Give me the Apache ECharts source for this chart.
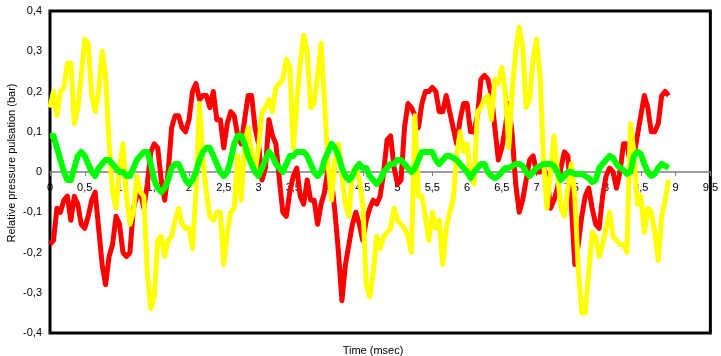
<!DOCTYPE html>
<html>
<head>
<meta charset="utf-8">
<script src="https://cdn.jsdelivr.net/npm/echarts@6/dist/echarts.min.js"></script>
<style>html,body{margin:0;padding:0;background:#fff}#c{width:721px;height:356px}</style>
</head>
<body>
<div id="c"></div>
<script>
// sampling step of the time axis (msec)
const timeStep = 0.05;
const xTicks = [0,0.5,1,1.5,2,2.5,3,3.5,4,4.5,5,5.5,6,6.5,7,7.5,8,8.5,9,9.5];
const yTicks = [-0.4,-0.3,-0.2,-0.1,0,0.1,0.2,0.3,0.4];

const redValues = [
  -0.18,-0.17,-0.09,-0.10,-0.07,-0.06,-0.12,-0.06,-0.08,-0.13,
  -0.14,-0.11,-0.07,-0.05,-0.14,-0.23,-0.28,-0.21,-0.18,-0.11,
  -0.13,-0.20,-0.21,-0.20,-0.09,-0.06,-0.05,-0.09,-0.03,0.05,
  0.07,0.06,-0.02,-0.07,0.00,0.11,0.14,0.14,0.11,0.10,
  0.13,0.20,0.22,0.18,0.19,0.19,0.16,0.20,0.13,0.13,
  0.06,0.12,0.15,0.14,0.09,0.07,0.13,0.19,0.19,0.11,
  0.07,-0.02,0.01,0.13,0.09,0.07,-0.02,-0.10,-0.11,-0.05,
  -0.01,0.01,-0.06,-0.08,-0.02,-0.07,-0.07,-0.13,-0.08,-0.05,
  0.01,-0.02,-0.10,-0.20,-0.32,-0.23,-0.18,-0.13,-0.10,-0.13,
  -0.17,-0.12,-0.09,-0.07,-0.08,-0.06,0.00,0.08,0.09,0.01,
  -0.03,-0.02,0.11,0.17,0.16,0.14,0.11,0.17,0.20,0.20,
  0.21,0.20,0.15,0.15,0.19,0.15,0.11,0.07,0.13,0.17,
  0.17,0.10,0.10,0.14,0.23,0.24,0.23,0.19,0.11,0.03,
  0.06,0.11,0.17,0.09,-0.03,-0.10,-0.07,-0.02,0.03,0.04,
  0.00,0.00,0.01,-0.01,-0.09,-0.07,-0.04,0.01,0.05,0.04,
  -0.08,-0.23,-0.18,-0.11,-0.06,-0.04,-0.09,-0.13,-0.14,-0.06,
  -0.01,0.01,0.00,-0.04,0.00,0.07,0.07,0.02,0.04,0.09,
  0.14,0.19,0.16,0.10,0.10,0.12,0.19,0.20,0.19
];

const yellowValues = [
  0.16,0.20,0.14,0.20,0.21,0.27,0.27,0.12,0.16,0.24,
  0.33,0.32,0.19,0.15,0.20,0.30,0.24,0.07,-0.05,-0.09,
  0.01,0.07,-0.06,-0.13,-0.10,-0.01,-0.05,-0.06,-0.25,-0.34,
  -0.31,-0.17,-0.16,-0.21,-0.17,-0.16,-0.12,-0.09,-0.13,-0.14,
  -0.14,-0.19,-0.05,0.17,0.03,-0.05,-0.11,-0.12,-0.10,-0.10,
  -0.23,-0.15,-0.10,-0.09,0.04,-0.07,0.07,0.11,0.05,0.00,
  0.06,0.15,0.16,0.18,0.15,0.21,0.22,0.23,0.28,0.26,
  0.06,0.17,0.27,0.34,0.30,0.16,0.17,0.24,0.32,0.17,
  0.02,-0.07,0.03,0.07,-0.01,-0.08,-0.11,0.00,0.01,-0.02,
  -0.08,-0.28,-0.31,-0.25,-0.16,-0.19,-0.16,-0.15,-0.14,-0.09,
  -0.12,-0.13,-0.14,-0.16,-0.20,0.14,-0.06,-0.06,-0.11,-0.17,
  -0.10,-0.14,-0.12,-0.23,-0.14,-0.10,-0.07,0.04,0.10,0.05,
  0.07,-0.01,-0.03,0.15,0.16,0.18,0.19,0.13,0.23,0.22,
  0.26,0.20,0.06,0.20,0.30,0.36,0.31,0.16,0.18,0.28,
  0.33,0.24,0.03,-0.09,0.00,0.09,0.00,-0.09,-0.11,-0.04,
  0.02,-0.06,-0.24,-0.35,-0.35,-0.25,-0.15,-0.16,-0.21,-0.18,
  -0.14,-0.10,-0.16,-0.17,-0.18,-0.18,-0.20,0.12,0.05,-0.08,
  -0.06,-0.15,-0.09,-0.10,-0.15,-0.22,-0.11,-0.07,-0.02
];

const greenValues = [
  0.09,0.09,0.06,0.03,0.00,-0.02,-0.02,0.01,0.04,0.05,
  0.04,0.02,0.00,-0.01,0.01,0.02,0.03,0.03,0.02,0.01,
  0.00,0.00,-0.01,-0.01,0.01,0.03,0.04,0.05,0.05,0.02,
  -0.02,-0.04,-0.05,-0.04,-0.02,0.01,0.02,0.02,0.00,-0.02,
  -0.03,-0.02,0.00,0.03,0.05,0.06,0.06,0.04,0.02,0.00,
  -0.01,0.00,0.03,0.07,0.09,0.09,0.07,0.04,0.02,0.00,
  -0.01,0.01,0.03,0.05,0.04,0.02,0.01,0.00,0.02,0.04,
  0.04,0.05,0.05,0.05,0.04,0.02,0.00,-0.01,0.00,0.03,
  0.05,0.07,0.06,0.04,0.01,-0.01,-0.02,-0.01,0.01,0.02,
  0.01,0.01,-0.01,-0.02,-0.03,-0.02,0.00,0.01,0.02,0.02,
  0.03,0.03,0.02,0.01,0.00,0.01,0.03,0.05,0.05,0.05,
  0.05,0.03,0.02,0.03,0.04,0.04,0.035,0.03,0.02,0.01,
  0.00,-0.015,0.00,0.01,0.02,0.02,0.00,-0.01,-0.015,-0.01,
  0.00,0.01,0.01,0.015,0.02,0.02,0.015,0.00,-0.01,0.00,
  0.01,0.015,0.02,0.02,0.02,0.015,0.00,-0.02,-0.01,0.00,
  0.00,-0.005,-0.005,-0.005,-0.01,-0.015,-0.025,-0.02,0.01,0.02,
  0.03,0.04,0.035,0.02,0.01,0.005,-0.005,0.00,0.04,0.05,
  0.045,0.02,0.00,-0.01,-0.005,0.01,0.02,0.015,0.01
];

const fmt = v => String(+(+v).toFixed(2)).replace('.', ',');
const pairs = vals => vals.map((v, i) => [+(i * timeStep).toFixed(2), v]);

const gridTop = 11, gridBottom = 23, chartH = 356;
const plotH = chartH - gridTop - gridBottom;
// distance from the bottom edge of the plot to the zero line
const zeroOffset = plotH * (0 - yTicks[0]) / (yTicks[yTicks.length - 1] - yTicks[0]);

const chart = echarts.init(document.getElementById('c'), null, {renderer: 'canvas'});
const font = 'Liberation Sans, Arial, sans-serif';
chart.setOption({
  animation: false,
  backgroundColor: '#fff',
  grid: {left: 50, right: 4, top: gridTop, bottom: gridBottom, show: true, borderColor: '#000', borderWidth: 3, backgroundColor: 'transparent'},
  xAxis: {
    type: 'value', min: xTicks[0], max: xTicks[xTicks.length - 1], interval: 0.5,
    position: 'bottom', offset: -zeroOffset,
    axisLine: {show: true, onZero: false, lineStyle: {color: '#808080', width: 1.5}},
    axisTick: {show: true, length: 4, lineStyle: {color: '#808080'}},
    splitLine: {show: false},
    axisLabel: {fontFamily: font, fontSize: 11, color: '#000', margin: 10, formatter: fmt, showMaxLabel: true, showMinLabel: true}
  },
  yAxis: {
    type: 'value', min: yTicks[0], max: yTicks[yTicks.length - 1], interval: 0.1,
    axisLine: {show: false}, axisTick: {show: false}, splitLine: {show: false},
    axisLabel: {fontFamily: font, fontSize: 11, color: '#000', margin: 8, formatter: fmt}
  },
  graphic: [
    {type: 'text', x: 373, y: 351, style: {text: 'Time (msec)', font: '11px ' + font, fill: '#000', align: 'center', verticalAlign: 'middle'}},
    {type: 'text', x: 12, y: 163, rotation: Math.PI / 2, style: {text: 'Relative pressure pulsation (bar)', font: '11px ' + font, fill: '#000', align: 'center', verticalAlign: 'middle'}}
  ],
  series: [
    {type: 'line', data: pairs(redValues), showSymbol: false, lineStyle: {color: '#ff0000', width: 5, join: 'round'}, itemStyle: {color: '#ff0000'}, z: 2},
    {type: 'line', data: pairs(yellowValues), showSymbol: false, lineStyle: {color: '#ffff00', width: 5, join: 'round'}, itemStyle: {color: '#ffff00'}, z: 3},
    {type: 'line', data: pairs(greenValues), showSymbol: false, lineStyle: {color: '#00ff00', width: 6, join: 'round'}, itemStyle: {color: '#00ff00'}, z: 4}
  ]
});
</script>
</body>
</html>
